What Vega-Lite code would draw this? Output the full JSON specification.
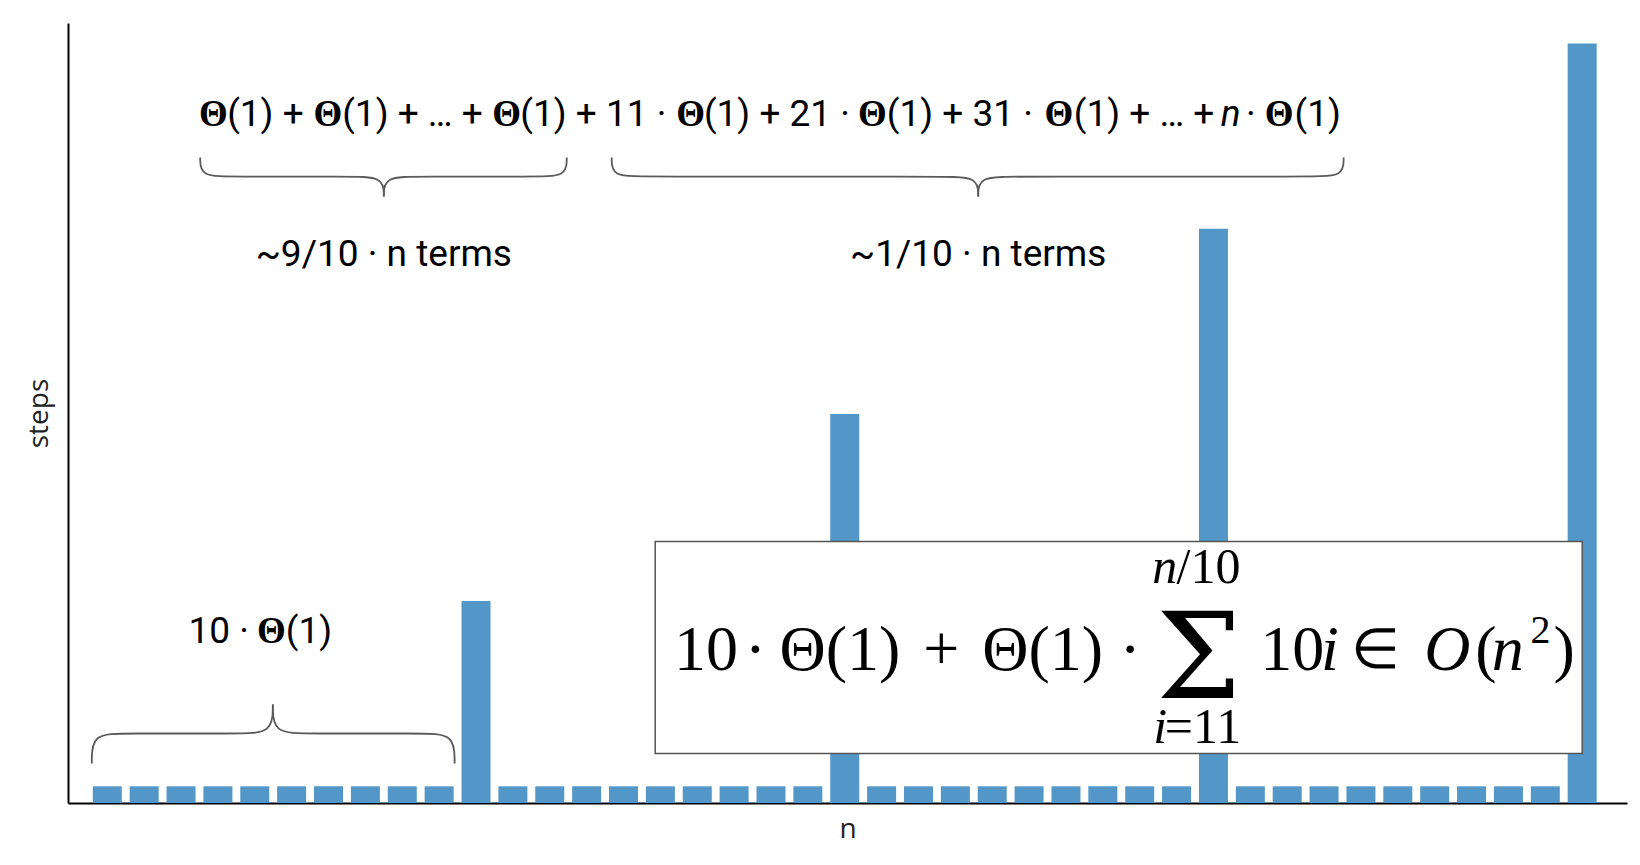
{
  "$schema": "https://vega.github.io/schema/vega-lite/v6.json",
  "width": 1559,
  "height": 780,
  "autosize": {"type": "none"},
  "padding": {"left": 68, "top": 23, "right": 13, "bottom": 62},
  "background": "white",
  "config": {
    "view": {"stroke": null},
    "axis": {"grid": false, "ticks": false, "labels": false, "domainColor": "#000000", "domainWidth": 2, "titleFont": "Open Sans", "titleFontSize": 28, "titleFontWeight": "normal", "titleColor": "#222222"}
  },
  "datasets": {
    "bars": [
      {"n": 1, "steps": 0.9}, {"n": 2, "steps": 0.9}, {"n": 3, "steps": 0.9}, {"n": 4, "steps": 0.9}, {"n": 5, "steps": 0.9},
      {"n": 6, "steps": 0.9}, {"n": 7, "steps": 0.9}, {"n": 8, "steps": 0.9}, {"n": 9, "steps": 0.9}, {"n": 10, "steps": 0.9},
      {"n": 11, "steps": 10.9}, {"n": 12, "steps": 0.9}, {"n": 13, "steps": 0.9}, {"n": 14, "steps": 0.9}, {"n": 15, "steps": 0.9},
      {"n": 16, "steps": 0.9}, {"n": 17, "steps": 0.9}, {"n": 18, "steps": 0.9}, {"n": 19, "steps": 0.9}, {"n": 20, "steps": 0.9},
      {"n": 21, "steps": 21}, {"n": 22, "steps": 0.9}, {"n": 23, "steps": 0.9}, {"n": 24, "steps": 0.9}, {"n": 25, "steps": 0.9},
      {"n": 26, "steps": 0.9}, {"n": 27, "steps": 0.9}, {"n": 28, "steps": 0.9}, {"n": 29, "steps": 0.9}, {"n": 30, "steps": 0.9},
      {"n": 31, "steps": 31}, {"n": 32, "steps": 0.9}, {"n": 33, "steps": 0.9}, {"n": 34, "steps": 0.9}, {"n": 35, "steps": 0.9},
      {"n": 36, "steps": 0.9}, {"n": 37, "steps": 0.9}, {"n": 38, "steps": 0.9}, {"n": 39, "steps": 0.9}, {"n": 40, "steps": 0.9},
      {"n": 41, "steps": 41}
    ],
    "box": [{"n": 15.86, "n2": 41.0, "steps": 2.67, "steps2": 14.11}],
    "braces": [
      {"seg": "AL", "i": 0, "n": 3.52, "steps": 34.84}, {"seg": "AL", "i": 1, "n": 3.52, "steps": 33.81}, {"seg": "AL", "i": 2, "n": 4.44, "steps": 33.81}, {"seg": "AL", "i": 3, "n": 7.53, "steps": 33.81}, {"seg": "AL", "i": 4, "n": 8.5, "steps": 33.81}, {"seg": "AL", "i": 5, "n": 8.5, "steps": 32.73},
      {"seg": "AR", "i": 0, "n": 8.5, "steps": 32.73}, {"seg": "AR", "i": 1, "n": 8.5, "steps": 33.81}, {"seg": "AR", "i": 2, "n": 9.47, "steps": 33.81}, {"seg": "AR", "i": 3, "n": 12.55, "steps": 33.81}, {"seg": "AR", "i": 4, "n": 13.46, "steps": 33.81}, {"seg": "AR", "i": 5, "n": 13.46, "steps": 34.84},
      {"seg": "BL", "i": 0, "n": 14.68, "steps": 34.84}, {"seg": "BL", "i": 1, "n": 14.68, "steps": 33.81}, {"seg": "BL", "i": 2, "n": 15.59, "steps": 33.81}, {"seg": "BL", "i": 3, "n": 23.65, "steps": 33.81}, {"seg": "BL", "i": 4, "n": 24.62, "steps": 33.81}, {"seg": "BL", "i": 5, "n": 24.62, "steps": 32.73},
      {"seg": "BR", "i": 0, "n": 24.62, "steps": 32.73}, {"seg": "BR", "i": 1, "n": 24.62, "steps": 33.81}, {"seg": "BR", "i": 2, "n": 25.59, "steps": 33.81}, {"seg": "BR", "i": 3, "n": 33.62, "steps": 33.81}, {"seg": "BR", "i": 4, "n": 34.53, "steps": 33.81}, {"seg": "BR", "i": 5, "n": 34.53, "steps": 34.84},
      {"seg": "CL", "i": 0, "n": 0.58, "steps": 2.13}, {"seg": "CL", "i": 1, "n": 0.58, "steps": 3.75}, {"seg": "CL", "i": 2, "n": 1.5, "steps": 3.75}, {"seg": "CL", "i": 3, "n": 4.52, "steps": 3.75}, {"seg": "CL", "i": 4, "n": 5.49, "steps": 3.75}, {"seg": "CL", "i": 5, "n": 5.49, "steps": 5.32},
      {"seg": "CR", "i": 0, "n": 5.49, "steps": 5.32}, {"seg": "CR", "i": 1, "n": 5.49, "steps": 3.75}, {"seg": "CR", "i": 2, "n": 6.46, "steps": 3.75}, {"seg": "CR", "i": 3, "n": 9.5, "steps": 3.75}, {"seg": "CR", "i": 4, "n": 10.42, "steps": 3.75}, {"seg": "CR", "i": 5, "n": 10.42, "steps": 2.13}
    ],
    "plainText": [
      {"n": 4.25, "steps": 36.56, "t": "(1) +"},
      {"n": 7.37, "steps": 36.56, "t": "(1) + … +"},
      {"n": 12.2, "steps": 36.56, "t": "(1) + 11 ·"},
      {"n": 17.18, "steps": 36.56, "t": "(1) + 21 ·"},
      {"n": 22.14, "steps": 36.56, "t": "(1) + 31 ·"},
      {"n": 27.21, "steps": 36.56, "t": "(1) + … +"},
      {"n": 31.88, "steps": 36.56, "t": "·"},
      {"n": 33.2, "steps": 36.56, "t": "(1)"},
      {"n": 3.2, "steps": 8.61, "t": "10 ·"},
      {"n": 5.84, "steps": 8.61, "t": "(1)"}
    ],
    "boldTheta": [
      {"n": 3.49, "steps": 36.56, "t": "Θ"}, {"n": 6.59, "steps": 36.56, "t": "Θ"}, {"n": 11.44, "steps": 36.56, "t": "Θ"},
      {"n": 16.43, "steps": 36.56, "t": "Θ"}, {"n": 21.36, "steps": 36.56, "t": "Θ"}, {"n": 26.42, "steps": 36.56, "t": "Θ"},
      {"n": 32.39, "steps": 36.56, "t": "Θ"}, {"n": 5.06, "steps": 8.61, "t": "Θ"}
    ],
    "italicN": [{"n": 31.2, "steps": 36.56, "t": "n"}],
    "centerLabels": [
      {"n": 8.5, "steps": 29.01, "t": "~9/10 · n terms"},
      {"n": 24.62, "steps": 29.01, "t": "~1/10 · n terms"}
    ],
    "fUpright": [
      {"n": 16.37, "steps": 7.2, "t": "10"},
      {"n": 19.23, "steps": 7.2, "t": "Θ(1)"},
      {"n": 24.73, "steps": 7.2, "t": "Θ(1)"},
      {"n": 32.27, "steps": 7.2, "t": "10"},
      {"n": 38.1, "steps": 7.2, "t": "("},
      {"n": 40.22, "steps": 7.2, "t": ")"}
    ],
    "fItalic": [
      {"n": 33.92, "steps": 7.2, "t": "i"},
      {"n": 36.72, "steps": 7.2, "t": "O"},
      {"n": 38.55, "steps": 7.2, "t": "n"}
    ],
    "fCenter": [
      {"n": 18.58, "steps": 7.2, "t": "·"},
      {"n": 23.62, "steps": 7.2, "t": "+"},
      {"n": 28.74, "steps": 7.2, "t": "·"}
    ],
    "fElem": [{"n": 35.4, "steps": 7.3, "t": "∈"}],
    "fSigma": [{"n": 30.6, "steps": 5.69, "t": "Σ"}],
    "fSup": [{"n": 39.6, "steps": 8.61, "t": "2"}],
    "fLimUp": [
      {"n": 30.0, "steps": 11.85, "t": "/10"},
      {"n": 29.68, "steps": 3.26, "t": "=11"}
    ],
    "fLimIt": [
      {"n": 29.34, "steps": 11.85, "t": "n"},
      {"n": 29.37, "steps": 3.26, "t": "i"}
    ]
  },
  "encoding": {
    "x": {"field": "n", "type": "quantitative", "scale": {"domain": [0.07, 42.08], "nice": false, "zero": false}, "axis": {"title": "n", "titlePadding": 12}},
    "y": {"field": "steps", "type": "quantitative", "scale": {"domain": [0, 42.1], "nice": false, "zero": false}, "axis": {"title": "steps", "titlePadding": 15}}
  },
  "layer": [
    {"data": {"name": "bars"}, "mark": {"type": "bar", "size": 29, "color": "#5297c8"}},
    {"data": {"name": "box"}, "mark": {"type": "rect", "fill": "white", "stroke": "#555555", "strokeWidth": 1.5}, "encoding": {"x2": {"field": "n2"}, "y2": {"field": "steps2"}}},
    {"data": {"name": "braces"}, "mark": {"type": "line", "interpolate": "basis", "stroke": "#5a5a5a", "strokeWidth": 1.8}, "encoding": {"detail": {"field": "seg"}, "order": {"field": "i", "type": "quantitative"}}},
    {"data": {"name": "plainText"}, "mark": {"type": "text", "align": "left", "baseline": "alphabetic", "font": "Roboto", "fontSize": 37, "color": "#000000"}, "encoding": {"text": {"field": "t"}}},
    {"data": {"name": "boldTheta"}, "mark": {"type": "text", "align": "left", "baseline": "alphabetic", "font": "Liberation Serif", "fontWeight": "bold", "fontSize": 37, "color": "#000000"}, "encoding": {"text": {"field": "t"}}},
    {"data": {"name": "italicN"}, "mark": {"type": "text", "align": "left", "baseline": "alphabetic", "font": "Roboto", "fontStyle": "italic", "fontSize": 37, "color": "#000000"}, "encoding": {"text": {"field": "t"}}},
    {"data": {"name": "centerLabels"}, "mark": {"type": "text", "align": "center", "baseline": "alphabetic", "font": "Roboto", "fontSize": 37, "color": "#000000"}, "encoding": {"text": {"field": "t"}}},
    {"data": {"name": "fUpright"}, "mark": {"type": "text", "align": "left", "baseline": "alphabetic", "font": "Liberation Serif", "fontSize": 64, "color": "#000000"}, "encoding": {"text": {"field": "t"}}},
    {"data": {"name": "fItalic"}, "mark": {"type": "text", "align": "left", "baseline": "alphabetic", "font": "Liberation Serif", "fontStyle": "italic", "fontSize": 64, "color": "#000000"}, "encoding": {"text": {"field": "t"}}},
    {"data": {"name": "fCenter"}, "mark": {"type": "text", "align": "center", "baseline": "alphabetic", "font": "Liberation Serif", "fontSize": 64, "color": "#000000"}, "encoding": {"text": {"field": "t"}}},
    {"data": {"name": "fElem"}, "mark": {"type": "text", "align": "center", "baseline": "alphabetic", "font": "Liberation Serif", "fontSize": 56, "color": "#000000"}, "encoding": {"text": {"field": "t"}}},
    {"data": {"name": "fSigma"}, "mark": {"type": "text", "align": "center", "baseline": "alphabetic", "font": "DejaVu Serif", "fontSize": 120, "color": "#000000"}, "encoding": {"text": {"field": "t"}}},
    {"data": {"name": "fSup"}, "mark": {"type": "text", "align": "left", "baseline": "alphabetic", "font": "Liberation Serif", "fontSize": 40, "color": "#000000"}, "encoding": {"text": {"field": "t"}}},
    {"data": {"name": "fLimUp"}, "mark": {"type": "text", "align": "left", "baseline": "alphabetic", "font": "Liberation Serif", "fontSize": 50, "color": "#000000"}, "encoding": {"text": {"field": "t"}}},
    {"data": {"name": "fLimIt"}, "mark": {"type": "text", "align": "left", "baseline": "alphabetic", "font": "Liberation Serif", "fontStyle": "italic", "fontSize": 50, "color": "#000000"}, "encoding": {"text": {"field": "t"}}}
  ]
}
